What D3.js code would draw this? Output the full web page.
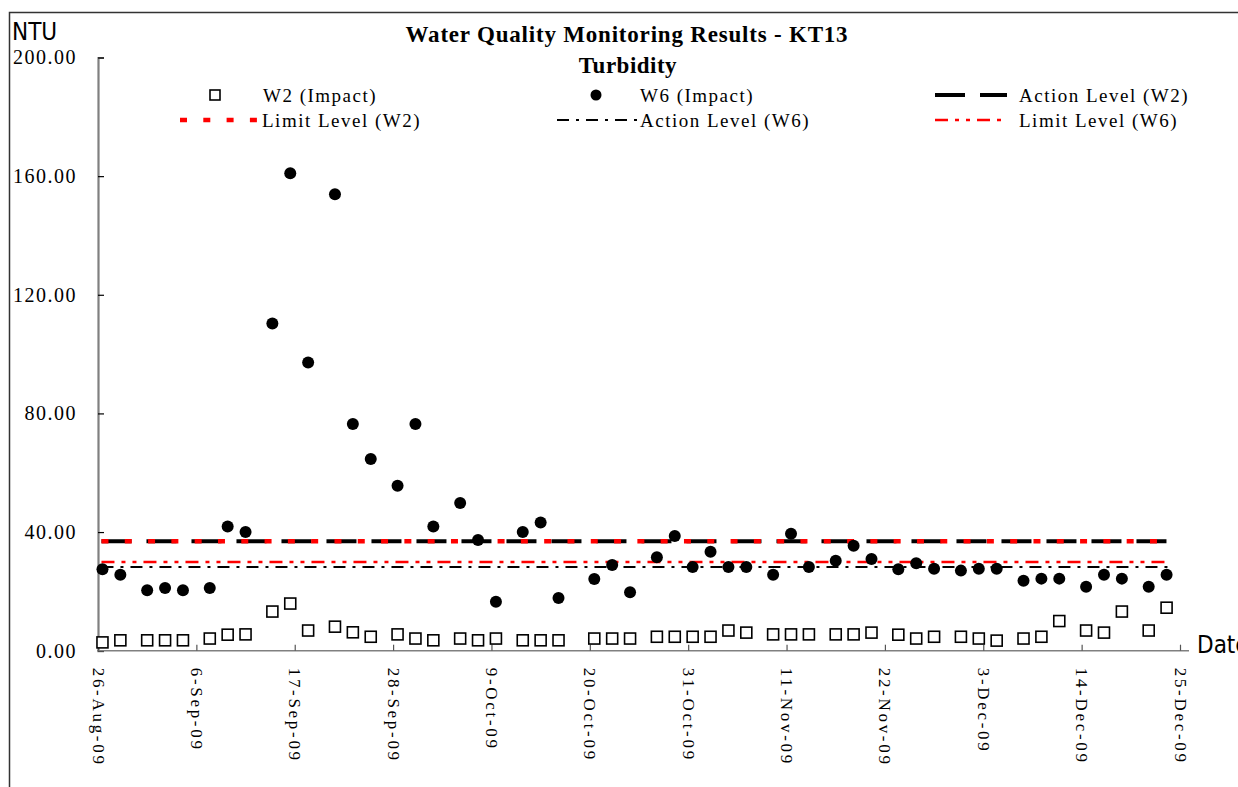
<!DOCTYPE html>
<html>
<head>
<meta charset="utf-8">
<script src="https://cdn.jsdelivr.net/npm/d3@7"></script>
<style>
  body { margin: 0; background: #fff; }
  text { font-family: "Liberation Serif", "Times New Roman", serif; fill: #000; }
  .narrow { font-family: "Liberation Sans Narrow", "DejaVu Sans Condensed", sans-serif; }
</style>
</head>
<body>
<script>
// sampling dates
const dates = ["26-Aug-09","28-Aug-09","31-Aug-09","2-Sep-09","4-Sep-09","7-Sep-09","9-Sep-09","11-Sep-09",
  "14-Sep-09","16-Sep-09","18-Sep-09","21-Sep-09","23-Sep-09","25-Sep-09","28-Sep-09","30-Sep-09",
  "2-Oct-09","5-Oct-09","7-Oct-09","9-Oct-09","12-Oct-09","14-Oct-09","16-Oct-09","20-Oct-09",
  "22-Oct-09","24-Oct-09","27-Oct-09","29-Oct-09","31-Oct-09","2-Nov-09","4-Nov-09","6-Nov-09",
  "9-Nov-09","11-Nov-09","13-Nov-09","16-Nov-09","18-Nov-09","20-Nov-09","23-Nov-09","25-Nov-09",
  "27-Nov-09","30-Nov-09","2-Dec-09","4-Dec-09","7-Dec-09","9-Dec-09","11-Dec-09","14-Dec-09",
  "16-Dec-09","18-Dec-09","21-Dec-09","23-Dec-09"];

// W2 (Impact) turbidity, NTU
const w2 = [2.8,3.5,3.5,3.5,3.5,4.1,5.4,5.5,13.2,15.9,6.8,8.1,6.2,4.7,5.5,4.1,
  3.5,4.1,3.5,4.1,3.5,3.5,3.5,4.1,4.1,4.1,4.7,4.7,4.7,4.7,6.8,6.1,
  5.5,5.5,5.5,5.5,5.5,6.1,5.4,4.1,4.7,4.7,4.1,3.4,4.1,4.7,10.0,6.8,
  6.1,13.2,6.8,14.5];

// W6 (Impact) turbidity, NTU
const w6 = [27.5,25.6,20.4,21.1,20.4,21.1,41.9,40.0,110.3,161.0,97.2,153.9,76.4,64.6,55.6,76.4,
  41.9,49.8,37.3,16.5,40.0,43.2,17.8,24.2,28.9,19.7,31.5,38.7,28.2,33.4,28.2,28.2,
  25.6,39.4,28.2,30.3,35.4,30.9,27.5,29.5,27.6,27.0,27.6,27.6,23.6,24.3,24.3,21.6,
  25.6,24.3,21.6,25.6];

// action / limit levels
const levelNames = ["Action Level (W2)", "Limit Level (W2)", "Action Level (W6)", "Limit Level (W6)"];
const levelValues = [36.9, 36.9, 28.2, 29.9];

const yTicks = [0, 40, 80, 120, 160, 200];
const xTickLabels = ["26-Aug-09","6-Sep-09","17-Sep-09","28-Sep-09","9-Oct-09","20-Oct-09",
  "31-Oct-09","11-Nov-09","22-Nov-09","3-Dec-09","14-Dec-09","25-Dec-09"];

const W = 1238, H = 787;
const parse = d3.timeParse("%d-%b-%y");
// samples are plotted at midday
const when = s => d3.timeHour.offset(parse(s), 12);

const svg = d3.select("body").append("svg")
  .attr("width", W).attr("height", H);

// chart frame
svg.append("rect")
  .attr("x", 9.5).attr("y", 12.5)
  .attr("width", 1260).attr("height", 800)
  .attr("fill", "none").attr("stroke", "#333").attr("stroke-width", 1.5);

const x = d3.scaleTime()
  .domain([parse("26-Aug-09"), parse("25-Dec-09")])
  .range([98, 1180]);
const y = d3.scaleLinear()
  .domain([0, 200])
  .range([650.7, 57.5]);

// level line styles
const levelStyle = [
  {color: "#000", width: 4, dash: "30,15"},
  {color: "#f00", width: 4.5, dash: "7,16.3"},
  {color: "#000", width: 2, dash: "12,7,3,7"},
  {color: "#f00", width: 2.5, dash: "13,7,4,7,4,7"}
];

// y axis
const yAxis = svg.append("g")
  .attr("transform", `translate(${x.range()[0]},0)`)
  .call(d3.axisLeft(y).tickValues(yTicks).tickSize(-6).tickPadding(21).tickFormat(d3.format(".2f")));
yAxis.select(".domain").attr("stroke", "#808080").attr("stroke-width", 2.2);
yAxis.selectAll(".tick line").attr("stroke", "#000").attr("stroke-width", 1.2);
yAxis.selectAll("text")
  .attr("font-family", "Liberation Serif, serif")
  .attr("font-size", 20).attr("letter-spacing", 1.5).attr("fill", "#000");

// x axis
const xAxis = svg.append("g")
  .attr("transform", `translate(0,${y(0)})`)
  .call(d3.axisBottom(x).tickValues(xTickLabels.map(parse)).tickSize(-6).tickSizeOuter(0)
    .tickFormat(d3.timeFormat("%-d-%b-%y")));
xAxis.select(".domain")
  .attr("d", `M${x.range()[0] - 1},0H1189`)
  .attr("stroke", "#808080").attr("stroke-width", 1.6);
xAxis.selectAll(".tick line").attr("stroke", "#555").attr("stroke-width", 1.2);
xAxis.selectAll("text")
  .attr("font-family", "Liberation Serif, serif")
  .attr("font-size", 17).attr("letter-spacing", 2.7).attr("fill", "#000")
  .attr("text-anchor", "start")
  .attr("transform", "translate(0,17) rotate(90)")
  .attr("x", 0).attr("y", 0).attr("dy", "0.35em");

// level lines
const first = when(dates[0]), last = when(dates[dates.length - 1]);
svg.append("g").selectAll("line")
  .data([0, 2, 3, 1])
  .join("line")
  .attr("x1", x(first) - 1).attr("x2", x(last) + 1)
  .attr("y1", i => y(levelValues[i])).attr("y2", i => y(levelValues[i]))
  .attr("stroke", i => levelStyle[i].color)
  .attr("stroke-width", i => levelStyle[i].width)
  .attr("stroke-dasharray", i => levelStyle[i].dash);

// W2 squares
svg.append("g").selectAll("rect")
  .data(dates.map((d, i) => ({d: when(d), v: w2[i]})))
  .join("rect")
  .attr("x", p => x(p.d) - 5.5).attr("y", p => y(p.v) - 5.5)
  .attr("width", 11).attr("height", 11)
  .attr("fill", "#fff").attr("stroke", "#000").attr("stroke-width", 1.6);

// W6 circles
svg.append("g").selectAll("circle")
  .data(dates.map((d, i) => ({d: when(d), v: w6[i]})))
  .join("circle")
  .attr("cx", p => x(p.d)).attr("cy", p => y(p.v))
  .attr("r", 6).attr("fill", "#000");

// titles
svg.append("text").attr("x", 627).attr("y", 42)
  .attr("text-anchor", "middle").attr("font-weight", "bold").attr("font-size", 23)
  .attr("letter-spacing", 0.8)
  .text("Water Quality Monitoring Results - KT13");
svg.append("text").attr("x", 628).attr("y", 73)
  .attr("text-anchor", "middle").attr("font-weight", "bold").attr("font-size", 23)
  .attr("letter-spacing", 0.5)
  .text("Turbidity");
svg.append("text").attr("class", "narrow").attr("x", 12).attr("y", 40)
  .attr("font-size", 24).text("NTU");
svg.append("text").attr("class", "narrow").attr("x", 1197).attr("y", 653)
  .attr("font-size", 24).text("Date");

// legend
const legend = svg.append("g").attr("font-size", 19).attr("letter-spacing", 1.5);
const legendItems = [
  {label: "W2 (Impact)", kind: "square", sx: 215, tx: 263, ty: 95},
  {label: "W6 (Impact)", kind: "circle", sx: 596, tx: 640, ty: 95},
  {label: levelNames[0], kind: 0, sx: [935, 1007], tx: 1019, ty: 95},
  {label: levelNames[1], kind: 1, sx: [180, 258], tx: 262, ty: 120},
  {label: levelNames[2], kind: 2, sx: [557, 637], tx: 640, ty: 120},
  {label: levelNames[3], kind: 3, sx: [935, 1007], tx: 1019, ty: 120}
];
legendItems.forEach(it => {
  if (it.kind === "square") {
    legend.append("rect").attr("x", it.sx - 5).attr("y", it.ty - 5)
      .attr("width", 10).attr("height", 10)
      .attr("fill", "#fff").attr("stroke", "#000").attr("stroke-width", 1.6);
  } else if (it.kind === "circle") {
    legend.append("circle").attr("cx", it.sx).attr("cy", it.ty).attr("r", 5.5).attr("fill", "#000");
  } else {
    const s = levelStyle[it.kind];
    legend.append("line")
      .attr("x1", it.sx[0]).attr("x2", it.sx[1]).attr("y1", it.ty).attr("y2", it.ty)
      .attr("stroke", s.color).attr("stroke-width", s.width).attr("stroke-dasharray", s.dash);
  }
  legend.append("text").attr("x", it.tx).attr("y", it.ty).attr("dy", "0.35em").text(it.label);
});
</script>
</body>
</html>
